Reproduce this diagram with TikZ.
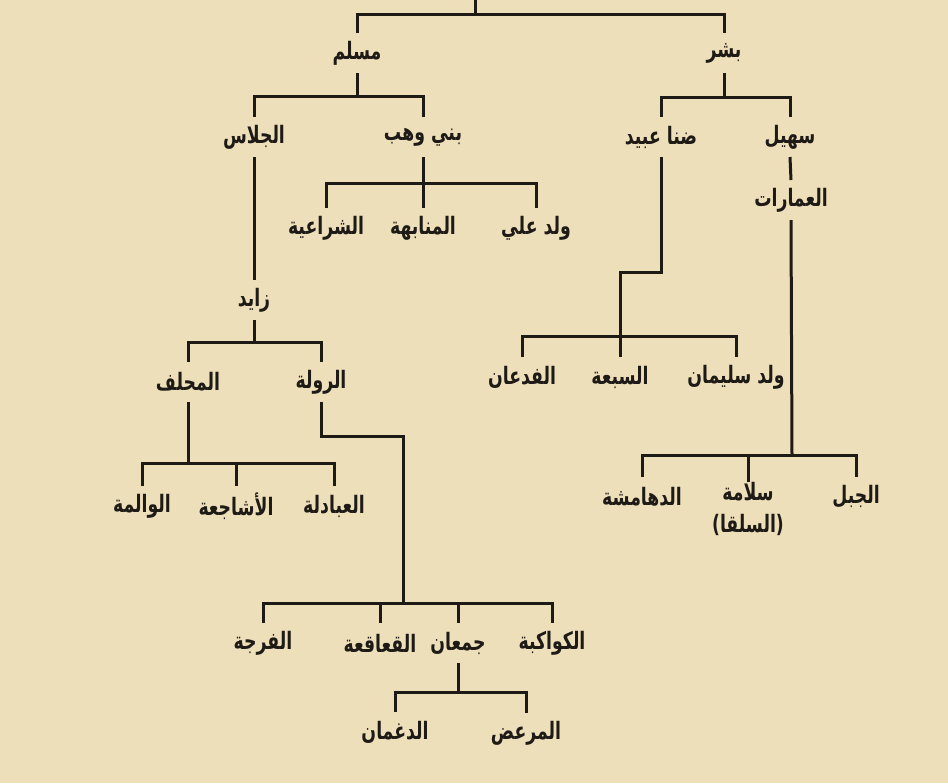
\documentclass[tikz,border=0pt]{standalone}
\usepackage{fontspec}
\newfontfamily\arabicfont[Script=Arabic, FakeStretch=0.72]{DejaVu Sans}
\newfontfamily\plainfont[FakeStretch=0.72]{DejaVu Sans}
\TeXXeTstate=1
\newcommand{\artxt}[1]{\beginR #1\endR}
\definecolor{paper}{RGB}{238,223,187}
\definecolor{ink}{RGB}{30,26,22}

\begin{document}
\begin{tikzpicture}[
    x=0.5pt, y=-0.5pt,
    clan/.style={inner sep=0pt, outer sep=0pt, minimum height=20pt,
        text=ink, font=\arabicfont\bfseries\fontsize{12}{16}\selectfont},
    edge/.style={draw=ink, line width=1.5pt, -}
]
    \useasboundingbox[fill=paper] (0,0) rectangle (948,783);

    \node[clan] (muslim) at (357,53) {\artxt{مسلم}};
    \node[clan] (bishr) at (724,53) {\artxt{بشر}};
    \node[clan] (jellas) at (254,137) {\artxt{الجلاس}};
    \node[clan] (banwahab) at (423,137) {\artxt{بني وهب}};
    \node[clan] (dhana) at (661,137) {\artxt{ضنا عبيد}};
    \node[clan] (suhail) at (790,137) {\artxt{سهيل}};
    \node[clan] (shraia) at (326,228) {\artxt{الشراعية}};
    \node[clan] (manabha) at (423,228) {\artxt{المنابهة}};
    \node[clan] (waldali) at (536,228) {\artxt{ولد علي}};
    \node[clan] (amarat) at (791,200) {\artxt{العمارات}};
    \node[clan] (zayed) at (254,300) {\artxt{زايد}};
    \node[clan] (mihlaf) at (188,382) {\artxt{المحلف}};
    \node[clan] (ruwala) at (321,382) {\artxt{الرولة}};
    \node[clan] (fadaan) at (522,377) {\artxt{الفدعان}};
    \node[clan] (sbaa) at (620,377) {\artxt{السبعة}};
    \node[clan] (waldsul) at (736,377) {\artxt{ولد سليمان}};
    \node[clan] (walma) at (142,506) {\artxt{الوالمة}};
    \node[clan] (ashajia) at (236,506) {\artxt{الأشاجعة}};
    \node[clan] (abadla) at (334,506) {\artxt{العبادلة}};
    \node[clan] (dahamsha) at (642,497) {\artxt{الدهامشة}};
    \node[clan, anchor=north, align=center] (salama) at (748,482)
        {\artxt{سلامة}\\{\plainfont(}\artxt{السلقا}{\plainfont)}};
    \node[clan] (jebel) at (856,497) {\artxt{الجبل}};
    \node[clan] (faraja) at (263,643) {\artxt{الفرجة}};
    \node[clan] (qaaqia) at (380,643) {\artxt{القعاقعة}};
    \node[clan] (jumaan) at (458,643) {\artxt{جمعان}};
    \node[clan] (kawakba) at (552,643) {\artxt{الكواكبة}};
    \node[clan] (daghman) at (395,732) {\artxt{الدغمان}};
    \node[clan] (marad) at (526,733) {\artxt{المرعض}};

    \coordinate (top) at (475,0);
    \coordinate (j0) at (475,14);
    \coordinate (j1) at (357,96);
    \coordinate (j2) at (724,97);
    \coordinate (j3) at (423,183);
    \coordinate (j4) at (254,342);
    \coordinate (j5) at (188,463);
    \coordinate (k6) at (403,436);
    \coordinate (j6) at (403,603);
    \coordinate (j7) at (458,692);
    \coordinate (k8) at (661,272);
    \coordinate (j8) at (620,336);
    \coordinate (j9) at (792,455);

    \draw[edge] (top) -- (j0);
    \draw[edge] (muslim.north) |- (j0) -| (bishr.north);
    \draw[edge] (muslim.south) -- (j1);
    \draw[edge] (jellas.north) |- (j1) -| (banwahab.north);
    \draw[edge] (bishr.south) -- (j2);
    \draw[edge] (dhana.north) |- (j2) -| (suhail.north);
    \draw[edge] (banwahab.south) -- (manabha.north);
    \draw[edge] (shraia.north) |- (j3) -| (waldali.north);
    \draw[edge] (suhail.south) -- (amarat.north);
    \draw[edge] (jellas.south) -- (zayed.north);
    \draw[edge] (zayed.south) -- (j4);
    \draw[edge] (mihlaf.north) |- (j4) -| (ruwala.north);
    \draw[edge] (mihlaf.south) -- (j5);
    \draw[edge] (walma.north) |- (j5) -| (abadla.north);
    \draw[edge] (ashajia.north) -- (ashajia.north |- j5);
    \draw[edge] (ruwala.south) |- (k6) -- (j6);
    \draw[edge] (faraja.north) |- (j6) -| (kawakba.north);
    \draw[edge] (qaaqia.north) -- (qaaqia.north |- j6);
    \draw[edge] (jumaan.north) -- (jumaan.north |- j6);
    \draw[edge] (jumaan.south) -- (j7);
    \draw[edge] (daghman.north) |- (j7) -| (marad.north);
    \draw[edge] (dhana.south) -- (k8) -| (sbaa.north);
    \draw[edge] (fadaan.north) |- (j8) -| (waldsul.north);
    \draw[edge] (amarat.south) -- (j9);
    \draw[edge] (dahamsha.north) |- (j9) -| (jebel.north);
    \draw[edge] (salama.north) -- (salama.north |- j9);
\end{tikzpicture}
\end{document}
